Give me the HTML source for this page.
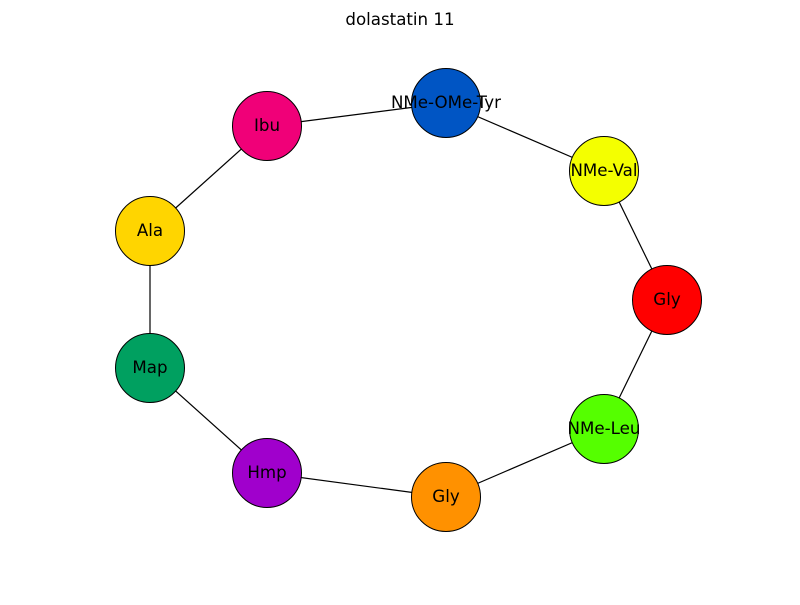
<!DOCTYPE html>
<html><head><style>body{margin:0;background:#fff}</style></head><body>
<svg width="800" height="600" xmlns="http://www.w3.org/2000/svg" font-family="DejaVu Sans, Liberation Sans, sans-serif">
<rect width="800" height="600" fill="#fff"/>
<text x="400" y="25" text-anchor="middle" font-size="16.67">dolastatin 11</text>
<g stroke="#000" stroke-width="1.2">
<line x1="446" y1="103" x2="604" y2="171"/>
<line x1="604" y1="171" x2="667" y2="300"/>
<line x1="667" y1="300" x2="604" y2="429"/>
<line x1="604" y1="429" x2="446" y2="497"/>
<line x1="446" y1="497" x2="267" y2="473"/>
<line x1="267" y1="473" x2="150" y2="368"/>
<line x1="150" y1="368" x2="150" y2="231"/>
<line x1="150" y1="231" x2="267" y2="126"/>
<line x1="267" y1="126" x2="446" y2="103"/>
</g>
<g stroke="#000" stroke-width="1">
<circle cx="446" cy="103" r="34.5" fill="#0055c4"/>
<circle cx="604" cy="171" r="34.5" fill="#f4ff00"/>
<circle cx="667" cy="300" r="34.5" fill="#ff0000"/>
<circle cx="604" cy="429" r="34.5" fill="#55ff00"/>
<circle cx="446" cy="497" r="34.5" fill="#ff9100"/>
<circle cx="267" cy="473" r="34.5" fill="#a000cc"/>
<circle cx="150" cy="368" r="34.5" fill="#00a060"/>
<circle cx="150" cy="231" r="34.5" fill="#ffd500"/>
<circle cx="267" cy="126" r="34.5" fill="#f00078"/>
</g>
<g font-size="16.67" text-anchor="middle" fill="#000">
<text x="446" y="108">NMe-OMe-Tyr</text>
<text x="604" y="176">NMe-Val</text>
<text x="667" y="305">Gly</text>
<text x="604" y="434">NMe-Leu</text>
<text x="446" y="502">Gly</text>
<text x="267" y="478">Hmp</text>
<text x="150" y="373">Map</text>
<text x="150" y="236">Ala</text>
<text x="267" y="131">Ibu</text>
</g>
</svg>
</body></html>
